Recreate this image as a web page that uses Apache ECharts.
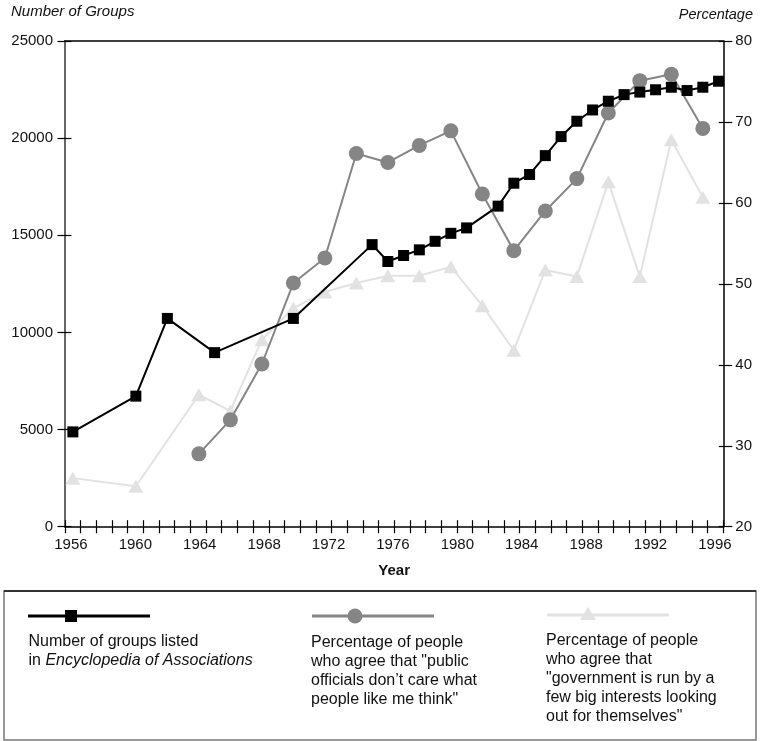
<!DOCTYPE html>
<html>
<head>
<meta charset="utf-8">
<script src="https://cdn.jsdelivr.net/npm/echarts@6/dist/echarts.min.js"></script>
<style>
html,body{margin:0;padding:0;background:#fff;}
#chart{width:760px;height:741px;}
</style>
</head>
<body>
<div id="chart"></div>
<script>
// ---- data ----
const groupYears = [1956,1960,1962,1965,1970,1975,1976,1977,1978,1979,1980,1981,1983,1984,1985,1986,1987,1988,1989,1990,1991,1992,1993,1994,1995,1996,1997];
const groupCounts = [4880,6720,10720,8960,10720,14520,13650,13960,14250,14690,15100,15380,16500,17680,18130,19100,20080,20870,21450,21900,22240,22370,22490,22620,22450,22620,22930];

const careYears = [1964,1966,1968,1970,1972,1974,1976,1978,1980,1982,1984,1986,1988,1990,1992,1994,1996];
const carePct   = [29.0,33.2,40.1,50.1,53.2,66.1,65.0,67.1,68.9,61.1,54.1,59.0,63.0,71.1,75.1,75.9,69.2];

const bigYears = [1956,1960,1964,1966,1968,1970,1972,1974,1976,1978,1980,1982,1984,1986,1988,1990,1992,1994,1996];
const bigPct   = [26.0,25.0,36.3,34.3,43.1,47.0,49.0,50.1,51.0,51.0,52.1,47.3,41.8,51.7,50.9,62.6,50.9,67.8,60.7];

const xTickLabels = [1956,1960,1964,1968,1972,1976,1980,1984,1988,1992,1996];
const leftTickLabels = [0,5000,10000,15000,20000,25000];
const rightTickLabels = [20,30,40,50,60,70,80];

const leftAxisTitle = 'Number of Groups';
const rightAxisTitle = 'Percentage';
const xAxisTitle = 'Year';

const legendGroups = 'Number of groups listed\nin {i|Encyclopedia of Associations}';
const legendCare = 'Percentage of people\nwho agree that "public\nofficials don\u2019t care what\npeople like me think"';
const legendBig = 'Percentage of people\nwho agree that\n"government is run by a\nfew big interests looking\nout for themselves"';

// ---- chart ----
const FONT = '"Liberation Sans", Arial, Helvetica, sans-serif';
const INK = '#111';
const C_GROUP = '#000000';
const C_CARE = '#858585';
const C_BIG = '#e2e2e2';

function zip(xs, ys){ return xs.map((x,i)=>[x, ys[i]]); }

const chart = echarts.init(document.getElementById('chart'), null, {renderer:'canvas'});

const hidden = {
  axisLine:{show:false}, axisTick:{show:false}, axisLabel:{show:false}, splitLine:{show:false}
};
const plain = v => String(v);

const option = {
  animation: false,
  backgroundColor: '#fff',
  grid: {left: 65, right: 36.7, top: 41, bottom: 214.3, containLabel: false, outerBoundsMode: 'none'},
  xAxis: [
    // 0: data axis (years)
    Object.assign({type:'value', min:1955.5, max:1997.3, position:'bottom'}, hidden),
    // 1: year labels
    {type:'value', min:1955.63, max:1996.52, position:'bottom',
     axisLine:{show:false, onZero:false}, axisTick:{show:false}, splitLine:{show:false},
     axisLabel:{show:true, customValues:xTickLabels, formatter:plain, margin:11, color:INK, fontSize:15, fontFamily:FONT, showMinLabel:true, showMaxLabel:true},
     name: xAxisTitle, nameLocation:'middle', nameGap:37,
     nameTextStyle:{fontWeight:'bold', fontSize:15, fontFamily:FONT, color:INK}},
    // 2: ticks outside + bottom line
    {type:'value', min:0, max:42, interval:1, position:'bottom',
     axisLine:{show:true, onZero:false, lineStyle:{color:'#000', width:1.5}},
     axisTick:{show:true, length:6.5, lineStyle:{color:'#000', width:1.2}},
     axisLabel:{show:false}, splitLine:{show:false}},
    // 3: ticks inside
    {type:'value', min:0, max:42, interval:1, position:'bottom',
     axisLine:{show:false, onZero:false},
     axisTick:{show:true, inside:true, length:6.5, lineStyle:{color:'#000', width:1.2}},
     axisLabel:{show:false}, splitLine:{show:false}},
    // 4: top frame line
    {type:'value', min:0, max:1, position:'top',
     axisLine:{show:true, onZero:false, lineStyle:{color:'#000', width:1.5}},
     axisTick:{show:false}, axisLabel:{show:false}, splitLine:{show:false}}
  ],
  yAxis: [
    {type:'value', min:leftTickLabels[0], max:leftTickLabels[leftTickLabels.length-1], interval:5000, position:'left',
     axisLine:{show:true, onZero:false, lineStyle:{color:'#666', width:2}},
     axisTick:{show:true, length:7.5, lineStyle:{color:'#000', width:1.2}},
     axisLabel:{show:true, formatter:plain, margin:12, color:INK, fontSize:15, fontFamily:FONT},
     splitLine:{show:false}},
    {type:'value', min:leftTickLabels[0], max:leftTickLabels[leftTickLabels.length-1], interval:5000, position:'left',
     axisLine:{show:false, onZero:false},
     axisTick:{show:true, inside:true, length:6.5, lineStyle:{color:'#000', width:1.2}},
     axisLabel:{show:false}, splitLine:{show:false}},
    {type:'value', min:rightTickLabels[0], max:rightTickLabels[rightTickLabels.length-1], interval:10, position:'right',
     axisLine:{show:true, onZero:false, lineStyle:{color:'#000', width:1.5}},
     axisTick:{show:true, length:9, lineStyle:{color:'#000', width:1.2}},
     axisLabel:{show:true, formatter:plain, margin:12, color:INK, fontSize:15, fontFamily:FONT},
     splitLine:{show:false}},
    {type:'value', min:rightTickLabels[0], max:rightTickLabels[rightTickLabels.length-1], interval:10, position:'right',
     axisLine:{show:false, onZero:false},
     axisTick:{show:true, inside:true, length:4.5, lineStyle:{color:'#000', width:1.2}},
     axisLabel:{show:false}, splitLine:{show:false}}
  ],
  series: [
    {name:'big', type:'line', xAxisIndex:0, yAxisIndex:2, data: zip(bigYears, bigPct),
     symbol:'triangle', symbolSize:[15,13], showAllSymbol:true, z:2,
     itemStyle:{color:C_BIG}, lineStyle:{color:C_BIG, width:2}},
    {name:'care', type:'line', xAxisIndex:0, yAxisIndex:2, data: zip(careYears, carePct),
     symbol:'circle', symbolSize:15, showAllSymbol:true, z:3,
     itemStyle:{color:C_CARE}, lineStyle:{color:C_CARE, width:2}},
    {name:'groups', type:'line', xAxisIndex:0, yAxisIndex:0, data: zip(groupYears, groupCounts),
     symbol:'rect', symbolSize:11, showAllSymbol:true, z:4,
     itemStyle:{color:C_GROUP}, lineStyle:{color:C_GROUP, width:2}}
  ],
  graphic: [
    {type:'text', left:11, top:4, style:{text:leftAxisTitle, fontSize:15, fontStyle:'italic', fontFamily:FONT, fill:INK}},
    {type:'text', right:7, top:7, style:{text:rightAxisTitle, fontSize:14.5, fontStyle:'italic', fontFamily:FONT, fill:INK}},
    // legend frame
    {type:'rect', shape:{x:4, y:591, width:752, height:149}, style:{fill:'none', stroke:'#777', lineWidth:1.5}, z:10},
    {type:'line', shape:{x1:4, y1:591, x2:756, y2:591}, style:{stroke:'#111', lineWidth:1.5}, z:11},
    // legend 1
    {type:'line', shape:{x1:28, y1:616, x2:150, y2:616}, style:{stroke:C_GROUP, lineWidth:3}, z:11},
    {type:'rect', shape:{x:65, y:610, width:12, height:12}, style:{fill:C_GROUP}, z:12},
    {type:'text', x:28.5, y:632.5, z:11, style:{text:legendGroups, fontSize:16, fontFamily:FONT, fill:INK, lineHeight:19, verticalAlign:'top',
      rich:{i:{fontStyle:'italic', fontSize:16, fontFamily:FONT, fill:INK, lineHeight:19}}}},
    // legend 2
    {type:'line', shape:{x1:312, y1:616, x2:434, y2:616}, style:{stroke:C_CARE, lineWidth:3}, z:11},
    {type:'circle', shape:{cx:355, cy:616, r:7.5}, style:{fill:C_CARE}, z:12},
    {type:'text', x:311, y:633, z:11, style:{text:legendCare, fontSize:16, fontFamily:FONT, fill:INK, lineHeight:19, verticalAlign:'top'}},
    // legend 3
    {type:'line', shape:{x1:547, y1:615, x2:669, y2:615}, style:{stroke:C_BIG, lineWidth:3}, z:11},
    {type:'polygon', shape:{points:[[588,607],[596,620],[580,620]]}, style:{fill:C_BIG}, z:12},
    {type:'text', x:546, y:631, z:11, style:{text:legendBig, fontSize:16, fontFamily:FONT, fill:INK, lineHeight:19, verticalAlign:'top'}}
  ]
};
chart.setOption(option);
</script>
</body>
</html>
